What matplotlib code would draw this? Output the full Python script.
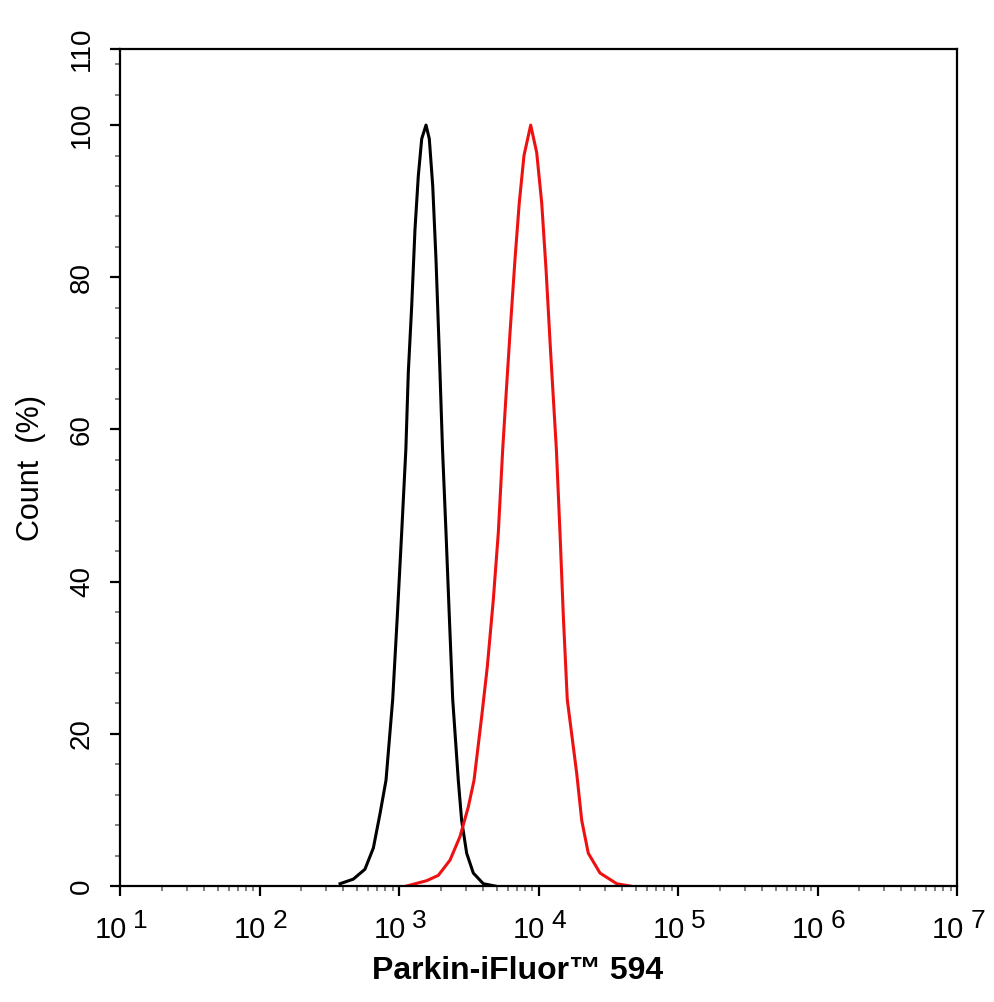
import numpy as np
import matplotlib
matplotlib.use("Agg")
import matplotlib.pyplot as plt
from matplotlib.ticker import MultipleLocator, LogLocator, NullFormatter

plt.rcParams['font.family'] = ['Liberation Sans', 'DejaVu Sans']

# control (black) - fluorescence intensity vs count (%)
control_x = [378, 470, 570, 655, 731, 807, 901, 972, 1045, 1120, 1166, 1233, 1302,
             1375, 1455, 1562, 1649, 1745, 1841, 1945, 2051, 2173, 2295, 2427,
             2661, 2813, 3056, 3410, 4021, 4877]
control_y = [0.3, 0.9, 2.2, 5.0, 9.5, 13.9, 24.5, 35.4, 46.4, 57.4, 67.5, 76.2, 86.3,
             93.3, 98.2, 100, 98.2, 92.0, 82.4, 70.1, 57.4, 46.4, 35.4, 24.5,
             13.9, 8.6, 4.3, 1.7, 0.3, 0]

# Parkin stained sample (red)
parkin_x = [1135, 1580, 1914, 2321, 2737, 3140, 3451, 3917, 4295, 4742, 5150, 5539,
            5848, 6249, 6787, 7281, 7870, 8790, 9705, 10540, 11320, 12220, 13430,
            14260, 15070, 16080, 18790, 20420, 22750, 27610, 36390, 45290]
parkin_y = [0, 0.7, 1.4, 3.4, 6.5, 10.4, 13.9, 22.3, 28.8, 37.6, 46.4, 57.4,
            64.4, 72.7, 82.4, 89.8, 96, 100, 96.4, 89.8, 81.1, 70.1, 57.4,
            46.4, 35.4, 24.5, 14.8, 8.6, 4.3, 1.7, 0.3, 0]

decades = [1, 2, 3, 4, 5, 6, 7]
y_ticks = [0, 20, 40, 60, 80, 100, 110]

fig = plt.figure(figsize=(9.94, 10.02), dpi=100)
ax = fig.add_axes([120 / 994, 1 - 886 / 1002, 837 / 994, 837 / 1002])

ax.plot(control_x, control_y, color='black', lw=2.2, solid_joinstyle='round')
ax.plot(parkin_x, parkin_y, color='#ee1111', lw=2.2, solid_joinstyle='round')

ax.set_xscale('log')
ax.set_xlim(10, 1e7)
ax.set_ylim(0, 110)

for s in ax.spines.values():
    s.set_linewidth(1.6)

ax.set_xticks([10.0 ** d for d in decades])
ax.xaxis.set_major_formatter(NullFormatter())
ax.xaxis.set_minor_locator(LogLocator(base=10, subs=np.arange(2, 10), numticks=20))
ax.xaxis.set_minor_formatter(NullFormatter())

ax.set_yticks(y_ticks)
ax.set_yticklabels([str(v) for v in y_ticks], rotation=90, va='center', fontsize=20)
ax.yaxis.set_minor_locator(MultipleLocator(4))

ax.tick_params(which='major', direction='out', length=7, width=1.6, color='black', pad=11)
ax.tick_params(which='minor', direction='out', length=3.5, width=1.3, color='#777777')
ax.tick_params(top=False, right=False, which='both')

# "10 n" style decade labels
for d in decades:
    ax.annotate('10', xy=(10.0 ** d, 0), xycoords=('data', 'axes fraction'),
                xytext=(5, -37.5), textcoords='offset points',
                ha='right', va='baseline', fontsize=21, annotation_clip=False)
    ax.annotate(str(d), xy=(10.0 ** d, 0), xycoords=('data', 'axes fraction'),
                xytext=(9.5, -30), textcoords='offset points',
                ha='left', va='baseline', fontsize=19, annotation_clip=False)

fig.text(518 / 994, 1 - 971 / 1002, 'Parkin-iFluor\u2122 594', ha='center', va='center',
         fontsize=23, fontweight='bold')
fig.text(31 / 994, 1 - 468 / 1002, 'Count  (%)', ha='center', va='center',
         rotation=90, fontsize=22)

fig.savefig('out.png', dpi=100)
